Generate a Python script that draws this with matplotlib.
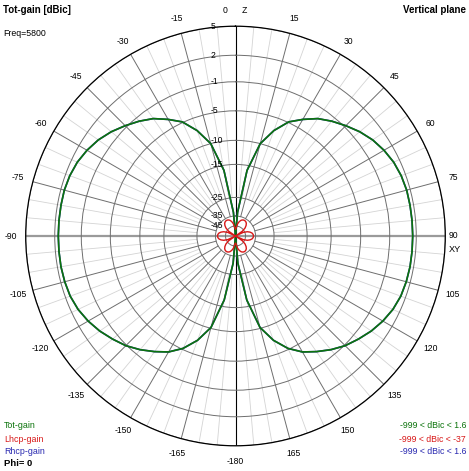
import numpy as np
import matplotlib
matplotlib.use('Agg')
import matplotlib.pyplot as plt
from matplotlib.transforms import ScaledTranslation

plt.rcParams['font.family'] = ['Liberation Sans', 'DejaVu Sans']

# ---------------- data ----------------
angles_deg = [0, 5, 10, 15, 20, 25, 30, 35, 40, 45, 50, 55, 60, 65, 70, 75, 80, 85, 90,
              95, 100, 105, 110, 115, 120, 125, 130, 135, 140, 145, 150, 155, 160, 165,
              170, 175, 180]
tot_gain = [-60, -33, -16.5, -10, -7.2, -4.9, -3.7, -2.5, -1.6, -0.8, -0.1, 0.5, 0.95,
            1.3, 1.5, 1.6, 1.6, 1.6, 1.6, 1.6, 1.6, 1.55, 1.45, 1.2, 0.8, 0.3, -0.3,
            -0.9, -1.8, -2.8, -3.8, -5.2, -7.4, -10.2, -17, -31, -60]
rhcp_gain = [-60, -33, -16.5, -10, -7.2, -4.9, -3.7, -2.5, -1.6, -0.8, -0.1, 0.5, 0.95,
             1.3, 1.5, 1.6, 1.6, 1.6, 1.6, 1.6, 1.6, 1.55, 1.45, 1.2, 0.8, 0.3, -0.3,
             -0.9, -1.8, -2.8, -3.8, -5.2, -7.4, -10.2, -17, -31, -60]
lhcp_gain = [-48, -46.5, -42.5, -40, -38.2, -37.3, -37, -37.3, -38.2, -40, -42.5, -46.5, -60,
             -46.5, -42.5, -40, -38.2, -37.3, -37, -37.3, -38.2, -40, -42.5, -46.5, -60,
             -46.5, -42.5, -40, -38.2, -37.3, -37, -37.3, -38.2, -40, -42.5, -46.5, -48]

ring_db = [5, 2, -1, -5, -10, -15, -25, -35, -45]
ring_labels = ['5', '2', '-1', '-5', '-10', '-15', '-25', '-35', '-45']

theta_ticks = [0, 15, 30, 45, 60, 75, 90, 105, 120, 135, 150, 165, 180,
               -165, -150, -135, -120, -105, -90, -75, -60, -45, -30, -15]
theta_labels = ['0      Z', '15', '30', '45', '60', '75', '', '105', '120', '135',
                '150', '165', '-180', '-165', '-150', '-135', '-120', '-105', '-90',
                '-75', '-60', '-45', '-30', '-15']
right_label = '90'
right_axis_name = 'XY'

title_left = 'Tot-gain [dBic]'
freq_text = 'Freq=5800'
title_right = 'Vertical plane'
legend_names = ['Tot-gain', 'Lhcp-gain', 'Rhcp-gain']
legend_ranges = ['-999 < dBic < 1.6', '-999 < dBic < -37', '-999 < dBic < 1.6']
phi_text = 'Phi= 0'

# ---------------- radial (log-like) scale ----------------
scale_db = [-55, -45, -35, -25, -15, -10, -5, -1, 2, 5]
scale_px = [0, 10, 20, 38.5, 71.5, 95.5, 125, 154, 180.5, 209.5]


def fwd(v):
    return np.interp(v, scale_db, scale_px)


def inv(p):
    return np.interp(p, scale_px, scale_db)


GREEN = '#0c740c'
RED = '#d81818'
BLUE = '#2828b0'

fig = plt.figure(figsize=(4.69, 4.71), dpi=100, facecolor='white')
cx, cy, R = 235.5, 236.0, 209.8
ax = fig.add_axes([(cx - R) / 469, (471 - cy - R) / 471, 2 * R / 469, 2 * R / 471],
                  projection='polar')
ax.set_theta_zero_location('N')
ax.set_theta_direction(-1)
ax.set_rscale('function', functions=(fwd, inv))
ax.set_facecolor('white')

# rings
ax.set_yticks(ring_db)
ax.set_yticklabels([])
ax.yaxis.grid(True, color='#6e6e6e', lw=0.7, ls='-')
ax.tick_params(axis='y', length=0)

# theta labels (positions taken modulo 360 so the full circle is kept)
ax.set_xticks(np.deg2rad(np.mod(theta_ticks, 360)))
ax.set_xticklabels(theta_labels, fontsize=6.2)
ax.xaxis.grid(False)
ax.tick_params(axis='x', length=0, pad=4)

# spokes
for a in range(5, 360, 5):
    if a % 90 == 0:
        continue
    if a % 15 == 0:
        ax.plot([np.deg2rad(a)] * 2, [-35, 5], color='#6e6e6e', lw=0.7, zorder=1)
    else:
        ax.plot([np.deg2rad(a)] * 2, [-25, 5], color='#d4d4d4', lw=0.6, zorder=0.9)

# axes lines
ax.plot([np.deg2rad(90)] * 2, [-55, 5], color='#9a9a9a', lw=1.6, zorder=1.2)
ax.plot([np.deg2rad(270)] * 2, [-55, 5], color='#9a9a9a', lw=1.6, zorder=1.2)
ax.plot([0, 0], [-55, 5], color='black', lw=0.8, zorder=1.3)
ax.plot([np.pi, np.pi], [-55, 5], color='black', lw=0.8, zorder=1.3)

ax.spines['polar'].set_color('black')
ax.spines['polar'].set_linewidth(0.9)

# label at 90 deg with the XY axis name below it
off90 = ScaledTranslation(3.5 / 100, 1 / 100, fig.dpi_scale_trans)
offxy = ScaledTranslation(3.0 / 100, -13 / 100, fig.dpi_scale_trans)
ax.text(np.pi / 2, 5, right_label, transform=ax.transData + off90, ha='left',
        va='center', fontsize=6.2, clip_on=False)
ax.text(np.pi / 2, 5, right_axis_name, transform=ax.transData + offxy, ha='left',
        va='center', fontsize=6.6, clip_on=False)

# radial labels
off = ScaledTranslation(-24.5 / 100, 0, fig.dpi_scale_trans)
for v, lab in zip(ring_db, ring_labels):
    ax.text(0, v, lab, transform=ax.transData + off, ha='left', va='center',
            fontsize=6.2, zorder=5)

# patterns
ang = np.array(angles_deg, dtype=float)
theta_full = np.deg2rad(np.concatenate([ang, 360 - ang[::-1]]))


def full(vals):
    v = np.array(vals, dtype=float)
    return np.concatenate([v, v[::-1]])


ax.plot(theta_full, full(rhcp_gain), color=BLUE, lw=1.2, zorder=3)
ax.plot(theta_full, full(tot_gain), color=GREEN, lw=1.2, zorder=3.5)
ax.plot(theta_full, full(lhcp_gain), color=RED, lw=1.0, zorder=4)

ax.set_xlim(0, 2 * np.pi)
ax.set_ylim(-55, 5)

# texts
fig.text(3 / 469, 1 - 10 / 471, title_left, fontsize=7, fontweight='bold',
         ha='left', va='center')
fig.text(3 / 469, 1 - 33 / 471, freq_text, fontsize=6.3, ha='left', va='center')
fig.text(466 / 469, 1 - 10 / 471, title_right, fontsize=7, fontweight='bold',
         ha='right', va='center')
cols = [GREEN, RED, BLUE]
ys = [426, 439, 452]
for name, rng, c, y in zip(legend_names, legend_ranges, cols, ys):
    fig.text(4 / 469, 1 - y / 471, name, fontsize=6.4, color=c, ha='left', va='center')
    fig.text(466 / 469, 1 - y / 471, rng, fontsize=6.3, color=c, ha='right', va='center')
fig.text(4 / 469, 1 - 464 / 471, phi_text, fontsize=6.8, fontweight='bold',
         ha='left', va='center')

fig.savefig('out.png', dpi=100, facecolor='white')
